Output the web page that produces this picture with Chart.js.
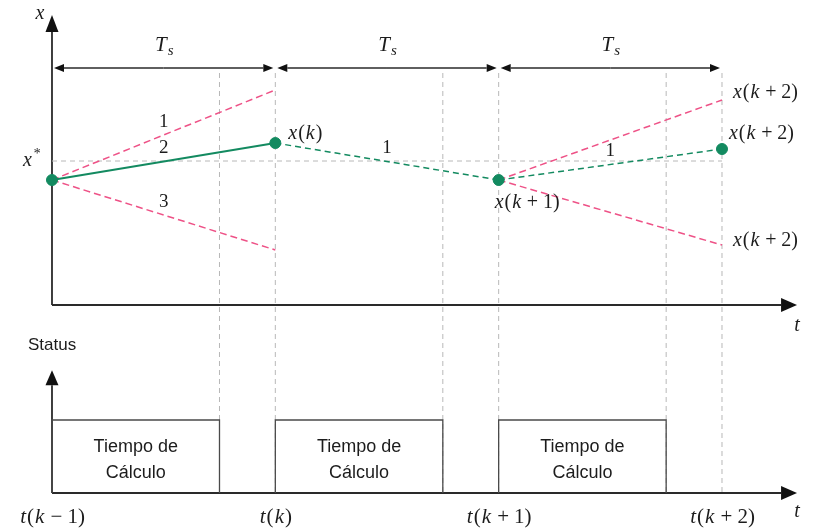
<!DOCTYPE html>
<html>
<head>
<meta charset="utf-8">
<script src="https://cdn.jsdelivr.net/npm/chart.js@4/dist/chart.umd.min.js"></script>
<style>
  html, body { margin: 0; padding: 0; background: #fff; }
  canvas { display: block; }
</style>
</head>
<body>
<canvas id="c" width="813" height="532"></canvas>
<script>
// Sampling instants t(k-1) ... t(k+2), in units of the sampling period Ts
const sampleTimes = [0, 1, 2, 3];
const sampleLabels = [
  [['t', 'i'], ['(', 'r'], ['k', 'i'], ['−', 'op'], ['1)', 'r']],
  [['t', 'i'], ['(', 'r'], ['k', 'i'], [')', 'r']],
  [['t', 'i'], ['(', 'r'], ['k', 'i'], ['+', 'op'], ['1)', 'r']],
  [['t', 'i'], ['(', 'r'], ['k', 'i'], ['+', 'op'], ['2)', 'r']]
];

// Computation windows (status = 1 while the controller is computing)
const computeStart = [0, 1, 2];
const computeEnd = [0.75, 1.75, 2.75];
const computeStatus = [1, 1, 1];
const computeText = ['Tiempo de', 'Cálculo'];

// State values
const xRef = 14.4;                          // x*
const trajectory = [12.5, 16.2, 12.5, 15.6]; // x(k-1), x(k), x(k+1), x(k+2)
const firstUpper = 21.5;                    // candidate 1 at t(k)
const firstLower = 5.5;                     // candidate 3 at t(k)
const thirdUpper = 20.5;                    // upper candidate at t(k+2)
const thirdLower = 6.0;                     // lower candidate at t(k+2)

// Axis extents
const stateAxisTop = 29;
const timeAxisEnd = 3.336;
const statusAxisTop = 1.68;
const periodBarLevel = 23.7;
const guideTop = 23.2;
const guideTimes = [0.75, 1, 1.75, 2, 2.75, 3];

const GREEN = '#138a60';
const PINK = '#ee5287';
const GUIDE = '#b8b8b8';
const INK = '#1c1c1c';
const MATH_FONT = '"Liberation Serif", "DejaVu Serif", serif';
const SANS_FONT = '"Liberation Sans", Arial, sans-serif';

function seg(x0, y0, x1, y1) { return [{ x: x0, y: y0 }, { x: x1, y: y1 }]; }

const datasets = [
  // sampled states
  { data: trajectory.map((v, i) => ({ x: sampleTimes[i], y: v })), showLine: false,
    pointRadius: 5.5, pointBackgroundColor: GREEN, pointBorderColor: GREEN, order: 0 },
  // applied input over the first period
  { data: seg(0, trajectory[0], 1, trajectory[1]), borderColor: GREEN, borderWidth: 2, order: 1 },
  // predicted evolutions
  { data: seg(1, trajectory[1], 2, trajectory[2]), borderColor: GREEN, borderWidth: 1.5, borderDash: [6, 4], order: 2 },
  { data: seg(2, trajectory[2], 3, trajectory[3]), borderColor: GREEN, borderWidth: 1.5, borderDash: [6, 4], order: 2 },
  { data: seg(0, trajectory[0], 1, firstUpper), borderColor: PINK, borderWidth: 1.5, borderDash: [7, 4], order: 3 },
  { data: seg(0, trajectory[0], 1, firstLower), borderColor: PINK, borderWidth: 1.5, borderDash: [7, 4], order: 3 },
  { data: seg(2, trajectory[2], 3, thirdUpper), borderColor: PINK, borderWidth: 1.5, borderDash: [7, 4], order: 3 },
  { data: seg(2, trajectory[2], 3, thirdLower), borderColor: PINK, borderWidth: 1.5, borderDash: [7, 4], order: 3 },
  // reference x*
  { data: seg(0, xRef, 3, xRef), borderColor: GUIDE, borderWidth: 1, borderDash: [5, 4], order: 6 }
];

// computation-time boxes on the status panel
computeStart.forEach((s, i) => {
  datasets.push({
    yAxisID: 'y2',
    data: [{ x: s, y: 0 }, { x: s, y: computeStatus[i] }, { x: computeEnd[i], y: computeStatus[i] }, { x: computeEnd[i], y: 0 }],
    borderColor: '#4a4a4a', borderWidth: 1.3, order: 4
  });
});

// Draws a run of math text: 'i' italic, 'r' roman, 'op' binary operator with spacing,
// 'sub' / 'sup' smaller scripts.
function drawMath(ctx, parts, x, y, align, size) {
  const fontFor = s => {
    if (s === 'i') return 'italic ' + size + 'px ' + MATH_FONT;
    if (s === 'sub' || s === 'sup') return 'italic ' + Math.round(size * 0.72) + 'px ' + MATH_FONT;
    return size + 'px ' + MATH_FONT;
  };
  const pad = s => (s === 'op' ? size * 0.24 : s === 'i' ? size * 0.05 : 0);
  let w = 0;
  parts.forEach(([t, s]) => { ctx.font = fontFor(s); w += ctx.measureText(t).width + 2 * pad(s); });
  let cx = align === 'center' ? x - w / 2 : align === 'right' ? x - w : x;
  ctx.textBaseline = 'middle';
  ctx.textAlign = 'left';
  parts.forEach(([t, s]) => {
    ctx.font = fontFor(s);
    let dy = 0;
    if (s === 'sub') dy = size * 0.3;
    if (s === 'sup') dy = -size * 0.35;
    cx += pad(s);
    ctx.fillText(t, cx, y + dy);
    cx += ctx.measureText(t).width + pad(s);
  });
}

function arrow(ctx, x0, y0, x1, y1, len, hw) {
  const a = Math.atan2(y1 - y0, x1 - x0);
  const bx = x1 - len * Math.cos(a), by = y1 - len * Math.sin(a);
  ctx.beginPath(); ctx.moveTo(x0, y0); ctx.lineTo(bx, by); ctx.stroke();
  ctx.beginPath();
  ctx.moveTo(x1, y1);
  ctx.lineTo(bx + hw * Math.sin(a), by - hw * Math.cos(a));
  ctx.lineTo(bx - hw * Math.sin(a), by + hw * Math.cos(a));
  ctx.closePath(); ctx.fill();
}

const diagramPlugin = {
  id: 'diagram',
  beforeDatasetsDraw(chart) {
    const { ctx, scales: { x, y, y2 } } = chart;
    const px = v => x.getPixelForValue(v), py = v => y.getPixelForValue(v), ps = v => y2.getPixelForValue(v);
    ctx.save();
    // vertical guides at sample instants and computation ends
    ctx.strokeStyle = GUIDE; ctx.lineWidth = 1; ctx.setLineDash([5, 4]);
    guideTimes.forEach(t => {
      ctx.beginPath(); ctx.moveTo(px(t), py(guideTop)); ctx.lineTo(px(t), ps(0)); ctx.stroke();
    });
    ctx.setLineDash([]);
    // axes
    ctx.strokeStyle = '#2a2a2a'; ctx.fillStyle = '#111'; ctx.lineWidth = 1.8;
    arrow(ctx, px(0), py(0), px(0), py(stateAxisTop), 17, 6.5);
    arrow(ctx, px(0), py(0), px(timeAxisEnd), py(0), 16, 7);
    arrow(ctx, px(0), ps(0), px(0), ps(statusAxisTop), 15, 6.5);
    arrow(ctx, px(0), ps(0), px(timeAxisEnd), ps(0), 16, 7);
    // sampling-period spans
    ctx.lineWidth = 1.4;
    for (let i = 0; i < sampleTimes.length - 1; i++) {
      const a = px(sampleTimes[i]) + 2, b = px(sampleTimes[i + 1]) - 2, yy = py(periodBarLevel);
      arrow(ctx, (a + b) / 2, yy, b, yy, 10, 4);
      arrow(ctx, (a + b) / 2, yy, a, yy, 10, 4);
    }
    ctx.restore();
  },
  afterDatasetsDraw(chart) {
    const { ctx, scales: { x, y, y2 } } = chart;
    const px = v => x.getPixelForValue(v), py = v => y.getPixelForValue(v), ps = v => y2.getPixelForValue(v);
    ctx.save();
    ctx.fillStyle = INK;
    // period labels
    for (let i = 0; i < sampleTimes.length - 1; i++) {
      drawMath(ctx, [['T', 'i'], ['s', 'sub']], px((sampleTimes[i] + sampleTimes[i + 1]) / 2), 45, 'center', 21);
    }
    // axis names
    drawMath(ctx, [['x', 'i']], px(0) - 12, py(stateAxisTop) - 1, 'center', 20);
    drawMath(ctx, [['t', 'i']], px(timeAxisEnd), py(0) + 21, 'center', 20);
    drawMath(ctx, [['t', 'i']], px(timeAxisEnd), ps(0) + 19, 'center', 20);
    drawMath(ctx, [['x', 'i'], ['*', 'sup']], px(0) - 12, py(xRef), 'right', 20);
    // branch numbers at segment midpoints
    const mid = (t0, v0, t1, v1) => [px((t0 + t1) / 2), (py(v0) + py(v1)) / 2 - 13];
    [[0, trajectory[0], 1, firstUpper, '1'], [0, trajectory[0], 1, trajectory[1], '2'],
     [0, trajectory[0], 1, firstLower, '3'], [1, trajectory[1], 2, trajectory[2], '1'],
     [2, trajectory[2], 3, trajectory[3], '1']].forEach(([t0, v0, t1, v1, s]) => {
      const [mx, my] = mid(t0, v0, t1, v1);
      drawMath(ctx, [[s, 'r']], mx, my, 'center', 19);
    });
    // state labels
    const xk = (n) => n === 0 ? [['x', 'i'], ['(', 'r'], ['k', 'i'], [')', 'r']]
      : [['x', 'i'], ['(', 'r'], ['k', 'i'], ['+', 'op'], [n + ')', 'r']];
    drawMath(ctx, xk(0), px(1) + 12, py(trajectory[1]) - 9, 'left', 20);
    drawMath(ctx, xk(1), px(2) - 5, py(trajectory[2]) + 23, 'left', 20);
    drawMath(ctx, xk(2), px(3) + 10, py(thirdUpper) - 7, 'left', 20);
    drawMath(ctx, xk(2), px(3) + 6, py(trajectory[3]) - 15, 'left', 20);
    drawMath(ctx, xk(2), px(3) + 10, py(thirdLower) - 4, 'left', 20);
    // time tick labels
    sampleTimes.forEach((t, i) => drawMath(ctx, sampleLabels[i], px(t), ps(0) + 24, 'center', 21));
    // status panel texts
    ctx.font = '17px ' + SANS_FONT; ctx.textAlign = 'left'; ctx.textBaseline = 'middle';
    ctx.fillText('Status', 28, ps(statusAxisTop) - 25);
    ctx.font = '18px ' + SANS_FONT; ctx.textAlign = 'center';
    computeStart.forEach((s, i) => {
      const cx = px((s + computeEnd[i]) / 2), cy = ps(computeStatus[i] / 2);
      ctx.fillText(computeText[0], cx, cy - 9);
      ctx.fillText(computeText[1], cx, cy + 17);
    });
    ctx.restore();
  }
};

new Chart(document.getElementById('c'), {
  type: 'line',
  data: { datasets },
  options: {
    responsive: false,
    animation: false,
    events: [],
    layout: { padding: 0, autoPadding: false },
    elements: { point: { radius: 0 }, line: { tension: 0, fill: false } },
    plugins: { legend: { display: false }, tooltip: { enabled: false } },
    scales: {
      x: { type: 'linear', min: -0.2328, max: 3.4075, display: false },
      y: { type: 'linear', min: -22.7, max: 30.5, display: false },
      y2: { type: 'linear', min: -0.5342, max: 6.7534, display: false }
    }
  },
  plugins: [diagramPlugin]
});
</script>
</body>
</html>
